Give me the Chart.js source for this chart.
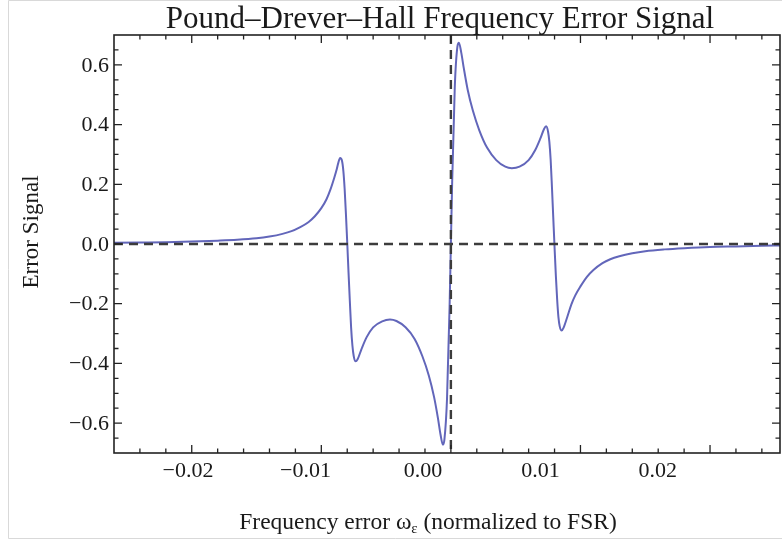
<!DOCTYPE html>
<html>
<head>
<meta charset="utf-8">
<script src="https://cdn.jsdelivr.net/npm/chart.js@4/dist/chart.umd.min.js"></script>
<style>
  html, body { margin: 0; padding: 0; background: #ffffff; }
  #wrap { width: 782px; height: 543px; }
</style>
</head>
<body>
<div id="wrap"><canvas id="pdh" width="782" height="543"></canvas></div>
<script>
// Frequency error (normalized to FSR) and the PDH error signal sampled along it
const freqError = [
  -0.026, -0.024, -0.022, -0.020, -0.018, -0.0165, -0.015, -0.014, -0.013, -0.0123,
  -0.0117, -0.011, -0.0105, -0.010, -0.0096, -0.0093, -0.009, -0.0088, -0.0087, -0.00855,
  -0.0084, -0.0083, -0.0082, -0.0081, -0.008, -0.0079, -0.0078, -0.0077, -0.0076, -0.0075,
  -0.00735, -0.0072, -0.0069, -0.0065, -0.006, -0.0053, -0.0047, -0.0042, -0.0035, -0.0028,
  -0.0022, -0.0017, -0.0013, -0.001, -0.0008, -0.00062, -0.0005, -0.0003, -0.0001, 0,
  0.0001, 0.0003, 0.0005, 0.00062, 0.0008, 0.001, 0.0013, 0.0017, 0.0022, 0.0028,
  0.0035, 0.0042, 0.0047, 0.0053, 0.006, 0.0065, 0.0069, 0.0072, 0.00735, 0.0075,
  0.0076, 0.0077, 0.0078, 0.0079, 0.008, 0.0081, 0.0082, 0.0083, 0.0084, 0.00855,
  0.0087, 0.009, 0.0093, 0.0096, 0.010, 0.0105, 0.011, 0.0117, 0.0123, 0.013,
  0.014, 0.015, 0.0165, 0.018, 0.020, 0.022, 0.024, 0.0254
];
const errorSignal = [
  0.004, 0.005, 0.006, 0.008, 0.011, 0.014, 0.019, 0.025, 0.034, 0.043,
  0.055, 0.073, 0.093, 0.12, 0.15, 0.182, 0.222, 0.252, 0.27, 0.288,
  0.278, 0.245, 0.185, 0.10, 0.005, -0.095, -0.19, -0.28, -0.34, -0.375,
  -0.393, -0.386, -0.352, -0.312, -0.279, -0.259, -0.253, -0.258, -0.279, -0.318,
  -0.376, -0.441, -0.512, -0.583, -0.638, -0.672, -0.655, -0.52, -0.21, 0.0,
  0.21, 0.525, 0.66, 0.674, 0.641, 0.588, 0.516, 0.446, 0.38, 0.322,
  0.281, 0.259, 0.254, 0.259, 0.281, 0.314, 0.353, 0.386, 0.394, 0.376,
  0.342, 0.282, 0.19, 0.09, -0.01, -0.105, -0.185, -0.245, -0.276, -0.29,
  -0.28, -0.242, -0.202, -0.172, -0.142, -0.11, -0.087, -0.064, -0.051, -0.041,
  -0.031, -0.024, -0.018, -0.014, -0.010, -0.008, -0.006, -0.005
];

// Axis ticks
const xTickValues = [-0.02, -0.01, 0, 0.01, 0.02];
const xTickLabels = ['\u22120.02', '\u22120.01', '0.00', '0.01', '0.02'];
const xMinorTicks = [-0.024, -0.022, -0.018, -0.016, -0.014, -0.012, -0.008, -0.006, -0.004, -0.002,
                     0.002, 0.004, 0.006, 0.008, 0.012, 0.014, 0.016, 0.018, 0.022, 0.024];
const yTickValues = [-0.6, -0.4, -0.2, 0, 0.2, 0.4, 0.6];
const yTickLabels = ['\u22120.6', '\u22120.4', '\u22120.2', '0.0', '0.2', '0.4', '0.6'];
const yMinorTicks = [-0.65, -0.55, -0.5, -0.45, -0.35, -0.3, -0.25, -0.15, -0.1, -0.05,
                     0.05, 0.1, 0.15, 0.25, 0.3, 0.35, 0.45, 0.5, 0.55, 0.65];

const chartTitle = 'Pound\u2013Drever\u2013Hall Frequency Error Signal';
const yAxisTitle = 'Error Signal';

const SERIF = '"Liberation Serif", "Times New Roman", serif';
const INK = '#1a1a1a';

const points = freqError.map((x, i) => ({ x: x, y: errorSignal[i] }));

// Frame, inward ticks, dashed zero lines and titles
const framePlugin = {
  id: 'frame',
  beforeDraw(chart) {
    const ctx = chart.ctx;
    ctx.save();
    ctx.fillStyle = '#ffffff';
    ctx.fillRect(0, 0, chart.width, chart.height);
    ctx.strokeStyle = '#d9d9d9';
    ctx.lineWidth = 1;
    ctx.beginPath();
    ctx.moveTo(8.5, 0.5); ctx.lineTo(782, 0.5);
    ctx.moveTo(8.5, 0.5); ctx.lineTo(8.5, 538.5);
    ctx.lineTo(782, 538.5);
    ctx.stroke();
    ctx.restore();
  },
  afterDatasetsDraw(chart) {
    const ctx = chart.ctx;
    const a = chart.chartArea;
    const xs = chart.scales.x, ys = chart.scales.y, xl = chart.scales.xLabel;
    ctx.save();

    // dashed zero lines
    ctx.strokeStyle = '#3c3c3c';
    ctx.lineWidth = 2.4;
    ctx.setLineDash([9, 6]);
    const y0 = ys.getPixelForValue(0);
    const x0 = xs.getPixelForValue(0);
    ctx.beginPath();
    ctx.moveTo(a.left, y0); ctx.lineTo(a.right, y0);
    ctx.moveTo(x0, a.top); ctx.lineTo(x0, a.bottom);
    ctx.stroke();
    ctx.setLineDash([]);

    // frame box
    ctx.strokeStyle = '#222222';
    ctx.lineWidth = 1.6;
    ctx.strokeRect(a.left, a.top, a.right - a.left, a.bottom - a.top);

    // inward ticks on all four sides
    ctx.lineWidth = 1.3;
    ctx.beginPath();
    const hTick = (v, len) => {
      const px = xs.getPixelForValue(v);
      ctx.moveTo(px, a.bottom); ctx.lineTo(px, a.bottom - len);
      ctx.moveTo(px, a.top); ctx.lineTo(px, a.top + len);
    };
    const vTick = (v, len) => {
      const py = ys.getPixelForValue(v);
      ctx.moveTo(a.left, py); ctx.lineTo(a.left + len, py);
      ctx.moveTo(a.right, py); ctx.lineTo(a.right - len, py);
    };
    xTickValues.forEach(v => hTick(v, 8));
    xMinorTicks.forEach(v => hTick(v, 4.5));
    yTickValues.forEach(v => vTick(v, 8));
    yMinorTicks.forEach(v => vTick(v, 4.5));
    ctx.stroke();

    // tick labels
    ctx.fillStyle = INK;
    ctx.font = '22px ' + SERIF;
    ctx.textBaseline = 'middle';
    ctx.textAlign = 'right';
    yTickValues.forEach((v, i) => ctx.fillText(yTickLabels[i], a.left - 5, ys.getPixelForValue(v) + 1));
    ctx.textAlign = 'center';
    ctx.textBaseline = 'top';
    xTickValues.forEach((v, i) => ctx.fillText(xTickLabels[i], xl.getPixelForValue(v), a.bottom + 7));

    // chart title
    ctx.font = '31px ' + SERIF;
    ctx.textBaseline = 'alphabetic';
    ctx.fillText(chartTitle, 440, 28);

    // y axis title
    ctx.save();
    ctx.font = '23px ' + SERIF;
    ctx.translate(38, 232);
    ctx.rotate(-Math.PI / 2);
    ctx.textAlign = 'center';
    ctx.fillText(yAxisTitle, 0, 0);
    ctx.restore();

    // x axis title with subscripted omega
    const parts = [
      { t: 'Frequency error \u03c9', size: 23.5, dy: 0 },
      { t: '\u03b5', size: 15, dy: 4 },
      { t: ' (normalized to FSR)', size: 23.5, dy: 0 }
    ];
    let total = 0;
    parts.forEach(p => { ctx.font = p.size + 'px ' + SERIF; p.w = ctx.measureText(p.t).width; total += p.w; });
    let cx = 428 - total / 2;
    ctx.textAlign = 'left';
    parts.forEach(p => {
      ctx.font = p.size + 'px ' + SERIF;
      ctx.fillText(p.t, cx, 529 + p.dy);
      cx += p.w;
    });

    ctx.restore();
  }
};

new Chart(document.getElementById('pdh'), {
  type: 'line',
  data: {
    datasets: [{
      data: points,
      borderColor: '#6266ba',
      borderWidth: 2,
      pointRadius: 0,
      fill: false,
      cubicInterpolationMode: 'monotone'
    }]
  },
  options: {
    responsive: false,
    animation: false,
    devicePixelRatio: 1,
    layout: { padding: { top: 35, right: 2, bottom: 0, left: 0 } },
    plugins: { legend: { display: false }, tooltip: { enabled: false }, title: { display: false } },
    scales: {
      x: {
        type: 'linear',
        min: -0.026,
        max: 0.0254,
        grid: { display: false },
        border: { display: false },
        ticks: { display: false },
        afterFit: s => { s.height = 90; }
      },
      // label placement axis for the frequency tick numbers
      xLabel: {
        type: 'linear',
        axis: 'x',
        position: 'bottom',
        display: false,
        min: -0.0263,
        max: 0.0304
      },
      y: {
        type: 'linear',
        min: -0.7,
        max: 0.7,
        grid: { display: false },
        border: { display: false },
        ticks: { display: false },
        afterFit: s => { s.width = 114; }
      }
    }
  },
  plugins: [framePlugin]
});
</script>
</body>
</html>
